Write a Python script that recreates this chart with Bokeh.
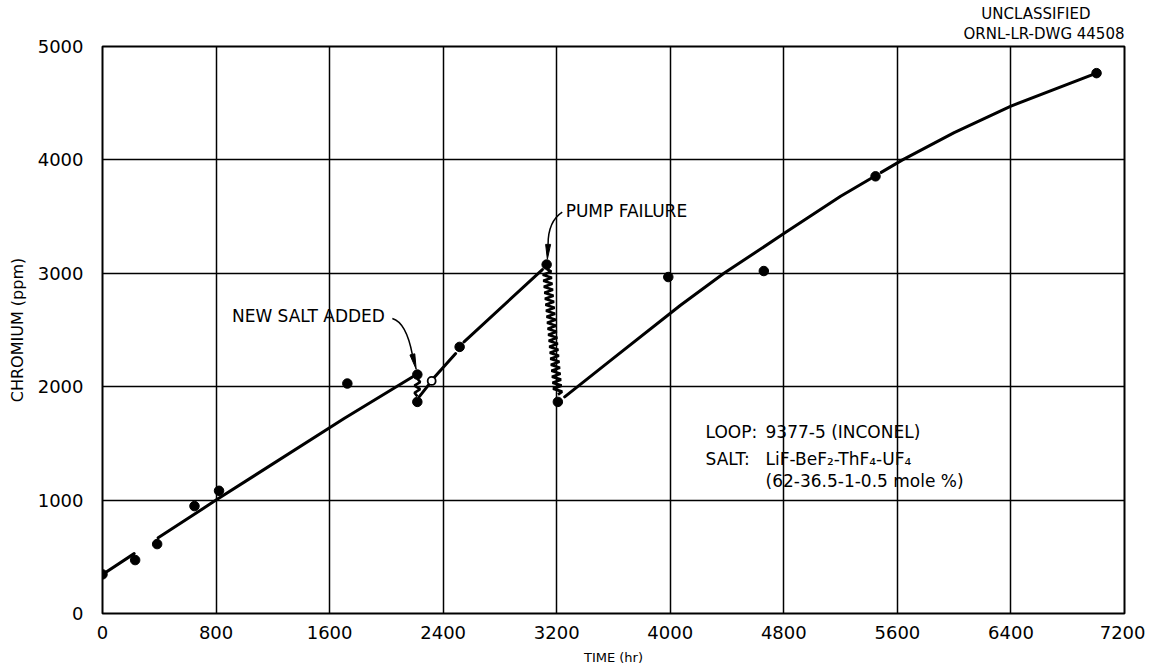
from bokeh.plotting import figure
from bokeh.models import Range1d, FixedTicker, Label, Title
from bokeh.embed import file_html
from bokeh.resources import INLINE

# ---- data ----
x_ticks = [0, 800, 1600, 2400, 3200, 4000, 4800, 5600, 6400, 7200]
y_ticks = [0, 1000, 2000, 3000, 4000, 5000]

time_hr = [0, 230, 385, 648, 821, 1725, 2218, 2218, 2516, 3129, 3208, 3986, 4659, 5446, 7003]
chromium_ppm = [345, 471, 612, 947, 1082, 2028, 2107, 1866, 2351, 3077, 1866, 2967, 3020, 3855, 4765]

open_time_hr = [2319]
open_chromium_ppm = [2051]

# fitted curves (drawn with small breaks, as in the original)
curve1_x = [[0, 223], [392, 800, 1702, 2183]]
curve1_y = [[345, 528], [667, 1000, 1720, 2086]]
curve2_x = [[2232, 2303], [2335, 2488], [2547, 3099]]
curve2_y = [[1912, 2025], [2078, 2292], [2395, 3033]]
curve3_x = [[3256, 3600, 4072, 4378, 4800, 5200, 5413], [5486, 5636, 6000, 6400, 7003]]
curve3_y = [[1910, 2252, 2718, 3000, 3350, 3680, 3836], [3890, 4000, 4240, 4474, 4765]]

FONT = "DejaVu Sans"


def spring(x0, y0, x1, y1, n, amp):
    xs, ys = [], []
    for i in range(n + 1):
        t = i / n
        off = 0 if i in (0, n) else (amp if i % 2 else -amp)
        xs.append(x0 + (x1 - x0) * t + off)
        ys.append(y0 + (y1 - y0) * t)
    return xs, ys


p = figure(width=1145, height=668, output_backend="svg", toolbar_location=None,
           x_range=Range1d(0, 7200), y_range=Range1d(0, 5000),
           min_border_left=102, min_border_right=21, min_border_top=46, min_border_bottom=55)

p.background_fill_color = "white"
p.border_fill_color = "white"
p.outline_line_color = "black"
p.outline_line_width = 2

for ax, ticks in ((p.xaxis, x_ticks), (p.yaxis, y_ticks)):
    ax.ticker = FixedTicker(ticks=ticks)
    ax.axis_line_color = None
    ax.major_tick_line_color = None
    ax.minor_tick_line_color = None
    ax.major_label_text_font = FONT
    ax.major_label_text_font_size = "18px"
    ax.major_label_text_color = "black"
    ax.axis_label_text_font = FONT
    ax.axis_label_text_font_style = "normal"
    ax.axis_label_text_color = "black"

p.xaxis.axis_label = "TIME (hr)"
p.yaxis.axis_label = "CHROMIUM (ppm)"
p.xaxis.axis_label_text_font_size = "13px"
p.yaxis.axis_label_text_font_size = "16px"
p.xaxis.major_label_standoff = 6
p.xaxis.axis_label_standoff = 8
p.yaxis.major_label_standoff = 13
p.yaxis.axis_label_standoff = 8

p.xgrid.ticker = FixedTicker(ticks=x_ticks)
p.ygrid.ticker = FixedTicker(ticks=y_ticks)
for g in (p.xgrid, p.ygrid):
    g.grid_line_color = "black"
    g.grid_line_width = 1.5
    g.grid_line_alpha = 1.0

# drawing-number block, top right
t2 = Title(text="ORNL-LR-DWG 44508", align="right", offset=0, standoff=7,
           text_font=FONT, text_font_size="15px", text_font_style="normal",
           text_color="black", text_line_height=1.0)
t1 = Title(text="UNCLASSIFIED", align="right", offset=34, standoff=-6,
           text_font=FONT, text_font_size="15px", text_font_style="normal",
           text_color="black", text_line_height=1.0)
p.add_layout(t2, "above")
p.add_layout(t1, "above")

# curves
for cx, cy in ((curve1_x, curve1_y), (curve2_x, curve2_y), (curve3_x, curve3_y)):
    p.multi_line(cx, cy, line_color="black", line_width=3, line_cap="round")

# springs (discontinuities)
sx, sy = spring(2218, 2072, 2218, 1915, 5, 20)
p.line(sx, sy, line_color="black", line_width=2.6)
sx, sy = spring(3129, 3040, 3209, 1930, 42, 31)
p.line(sx, sy, line_color="black", line_width=2.7)

# points
p.scatter(time_hr, chromium_ppm, size=9.5, marker="circle", fill_color="black", line_color="black")
p.scatter(open_time_hr, open_chromium_ppm, size=8, marker="circle", fill_color="white",
          line_color="black", line_width=1.8)

# annotation arrows
p.bezier(x0=[2042], y0=[2601], x1=[2183], y1=[2282], cx0=[2108], cy0=[2577], cx1=[2157], cy1=[2454],
         line_color="black", line_width=1.5)
p.patch([2210, 2200, 2166], [2154, 2290, 2280], fill_color="black", line_color="black", line_width=1)
p.bezier(x0=[3239], y0=[3540], x1=[3139], y1=[3255], cx0=[3171], cy0=[3485], cx1=[3139], cy1=[3396],
         line_color="black", line_width=1.5)
p.patch([3134, 3122, 3157], [3123, 3255, 3255], fill_color="black", line_color="black", line_width=1)


def lab(x, y, text, size="17px", align="left", baseline="middle"):
    p.add_layout(Label(x=x, y=y, text=text, text_font=FONT, text_font_size=size,
                       text_color="black", text_align=align, text_baseline=baseline))


lab(912, 2621, "NEW SALT ADDED")
lab(3263, 3546, "PUMP FAILURE")
lab(4249, 1599, "LOOP:")
lab(4671, 1599, "9377-5 (INCONEL)")
lab(4249, 1361, "SALT:")
lab(4671, 1361, "LiF-BeF\u2082-ThF\u2084-UF\u2084")
lab(4671, 1167, "(62-36.5-1-0.5 mole %)")

open("out.html", "w").write(file_html(p, INLINE))
